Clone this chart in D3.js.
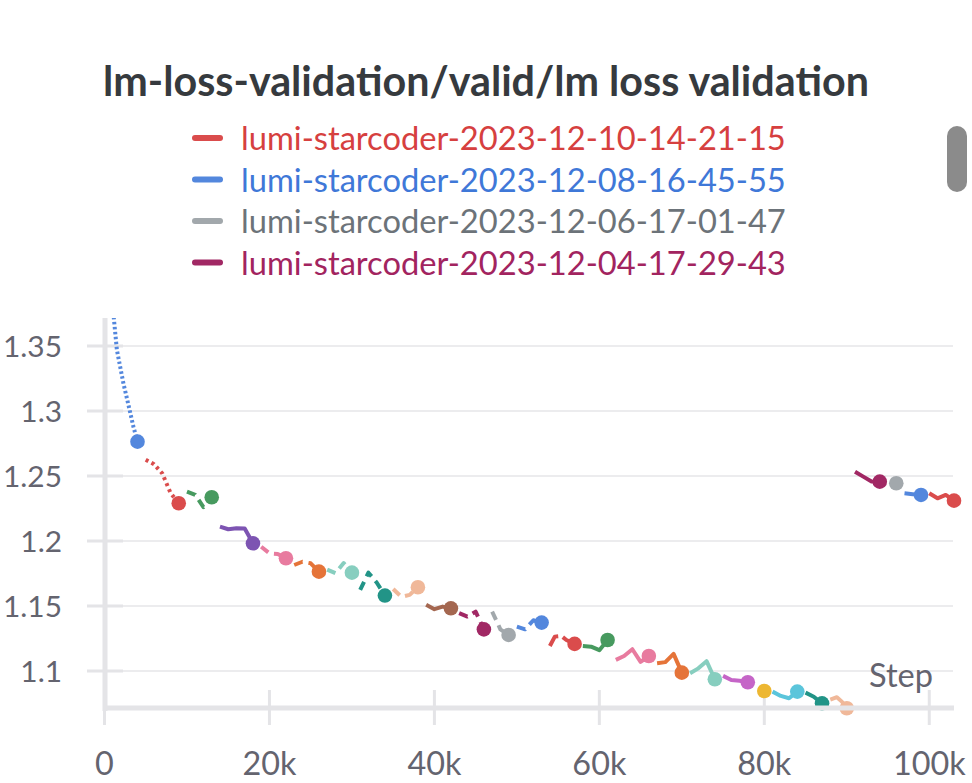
<!DOCTYPE html>
<html><head><meta charset="utf-8">
<script src="https://cdn.jsdelivr.net/npm/d3@7"></script>
<style>body{margin:0;background:#fff}svg{display:block}</style>
</head><body>
<svg id="c" width="972" height="783"></svg>
<script>
// ---- data ----
const title = "lm-loss-validation/valid/lm loss validation";
const legendLabels = ["lumi-starcoder-2023-12-10-14-21-15","lumi-starcoder-2023-12-08-16-45-55","lumi-starcoder-2023-12-06-17-01-47","lumi-starcoder-2023-12-04-17-29-43"];
const xTicks = [0, 20000, 40000, 60000, 80000, 100000];
const xTickLabels = ["0","20k","40k","60k","80k","100k"];
const yTicks = [1.1, 1.15, 1.2, 1.25, 1.3, 1.35];
const yTickLabels = ["1.1","1.15","1.2","1.25","1.3","1.35"];

const runBlue1 = [[1000,1.38],[1500,1.347],[2300,1.321],[3000,1.302],[3500,1.288],[4000,1.2764]];
const runRed1 = [[5000,1.2625],[6000,1.259],[7000,1.252],[8000,1.237],[9000,1.229]];
const runGreen1 = [[10000,1.238],[11000,1.2355],[12000,1.226],[13000,1.2336]];
const runPurple1 = [[14000,1.211],[15000,1.209],[16000,1.2098],[17000,1.2095],[18000,1.1982]];
const runPink1 = [[19000,1.1955],[20000,1.1905],[21000,1.19],[22000,1.1867]];
const runOrange1 = [[23000,1.1815],[24000,1.184],[25000,1.1828],[26000,1.1764]];
const runAqua1 = [[27000,1.178],[28000,1.1752],[29000,1.183],[30000,1.1756]];
const runTeal1 = [[31000,1.1623],[32000,1.1756],[33000,1.168],[34000,1.158]];
const runPeach1 = [[35000,1.163],[36000,1.157],[37000,1.1585],[38000,1.1644]];
const runBrown1 = [[39000,1.151],[40000,1.1475],[41000,1.1495],[42000,1.1482]];
const runMagenta1 = [[43000,1.1445],[44000,1.1418],[45000,1.1456],[46000,1.132]];
const runGray1 = [[47000,1.1456],[47500,1.139],[48000,1.132],[49000,1.1277]];
const runBlue2 = [[50000,1.1341],[51000,1.132],[52000,1.139],[53000,1.1372]];
const runRed2 = [[54000,1.1192],[54600,1.1264],[55400,1.1269],[56000,1.1238],[57000,1.1208]];
const runGreen2 = [[58000,1.1192],[59000,1.1187],[60000,1.116],[61000,1.1238]];
const runPink2 = [[62000,1.1085],[63000,1.1115],[64000,1.1167],[65000,1.107],[66000,1.1115]];
const runOrange2 = [[67000,1.106],[68000,1.1068],[69000,1.1131],[70000,1.0987]];
const runAqua2 = [[71000,1.0982],[72000,1.102],[73000,1.1075],[74000,1.0936]];
const runOrchid1 = [[75000,1.0962],[76000,1.093],[77000,1.0925],[78000,1.0913]];
const runYellow1 = [[80000,1.0846]];
const runCyan1 = [[81000,1.0841],[82000,1.0808],[83000,1.079],[84000,1.0841]];
const runTeal2 = [[85000,1.0833],[86000,1.0802],[87000,1.0751]];
const runPeach2 = [[88000,1.078],[88800,1.0798],[89400,1.0764],[90000,1.0713]];
const runMagenta2 = [[91000,1.2533],[92000,1.2495],[93000,1.2458],[94000,1.2456]];
const runGray2 = [[96000,1.2444]];
const runBlue3 = [[97000,1.2367],[98000,1.236],[99000,1.2354]];
const runRed3 = [[100000,1.2367],[101000,1.2328],[102000,1.2354],[103000,1.231]];

// ---- styles ----
const C = {red:"#da4c4c",blue:"#5387dd",gray:"#a2a8ac",magenta:"#a12864",green:"#479a5f",purple:"#7d54b2",
  pink:"#e87b9f",orange:"#e57439",aqua:"#87cebf",teal:"#229487",peach:"#f0b899",brown:"#a46750",
  orchid:"#c565c7",yellow:"#edb732",cyan:"#5bc5db"};
const DOT="2.5,2.5", DOT2="3,3.5", DASH="9,6", SOLID=null;
const runs = [
  [runBlue1,C.blue,DOT],[runRed1,C.red,DOT2],[runGreen1,C.green,DASH],[runPurple1,C.purple,SOLID],
  [runPink1,C.pink,DASH],[runOrange1,C.orange,DASH],[runAqua1,C.aqua,DASH],[runTeal1,C.teal,DASH],
  [runPeach1,C.peach,DASH],[runBrown1,C.brown,SOLID],[runMagenta1,C.magenta,DASH],[runGray1,C.gray,DASH],
  [runBlue2,C.blue,DASH],[runRed2,C.red,"14,5"],[runGreen2,C.green,SOLID],[runPink2,C.pink,SOLID],
  [runOrange2,C.orange,SOLID],[runAqua2,C.aqua,SOLID],[runOrchid1,C.orchid,SOLID],[runYellow1,C.yellow,SOLID],
  [runCyan1,C.cyan,SOLID],[runTeal2,C.teal,SOLID],[runPeach2,C.peach,SOLID],[runMagenta2,C.magenta,SOLID],
  [runGray2,C.gray,SOLID],[runBlue3,C.blue,SOLID],[runRed3,C.red,SOLID]
];
const legendColors = [C.red,C.blue,C.gray,C.magenta];
const legendTextColors = ["#d6403f","#3f78d8","#6c7379","#a2245f"];

const svg = d3.select("#c");
const FONT = "Lato, 'Noto Sans', sans-serif";
const textGray = "#64646f";
const axisCol = "#e4e4e7", gridCol = "#ececee";

function fit(sel, target, start){
  sel.attr("font-size", start);
  const w = sel.node().getComputedTextLength();
  const s = start*target/w;
  sel.attr("font-size", s);
  return s;
}

// title
const t = svg.append("text").attr("x",486).attr("y",96).attr("text-anchor","middle")
  .attr("font-family",FONT).attr("font-weight","bold").attr("fill","#363a3e").text(title);
fit(t, 766, 32);

// legend
const legY = [150,191.5,233,274.5];
let legSize = null;
legendLabels.forEach((lab,i)=>{
  svg.append("line").attr("x1",195).attr("x2",220).attr("y1",legY[i]-12).attr("y2",legY[i]-12)
    .attr("stroke",legendColors[i]).attr("stroke-width",6).attr("stroke-linecap","round");
  const tx = svg.append("text").attr("x",241).attr("y",legY[i]).attr("font-family",FONT)
    .attr("fill",legendTextColors[i]).text(lab);
  if(legSize===null) legSize = fit(tx,545,28); else tx.attr("font-size",legSize);
});

// scrollbar
svg.append("rect").attr("x",947).attr("y",126).attr("width",20).attr("height",66).attr("rx",10).attr("fill","#8b8b8b");

// scales
const x = d3.scaleLinear().domain([0,103000]).range([104.5,954]);
const y = d3.scaleLinear().domain([1.0715,1.3715]).range([708,318]);

// grid
svg.append("g").selectAll("line").data(yTicks).join("line")
  .attr("x1",104).attr("x2",953).attr("y1",d=>y(d)).attr("y2",d=>y(d))
  .attr("stroke",gridCol).attr("stroke-width",2);
// y ticks
svg.append("g").selectAll("line").data(yTicks).join("line")
  .attr("x1",87).attr("x2",123).attr("y1",d=>y(d)).attr("y2",d=>y(d))
  .attr("stroke",axisCol).attr("stroke-width",3);
// x ticks
svg.append("g").selectAll("line").data(xTicks).join("line")
  .attr("x1",d=>x(d)).attr("x2",d=>x(d)).attr("y1",690).attr("y2",725)
  .attr("stroke",axisCol).attr("stroke-width",3);

// labels
const xl = svg.append("g").selectAll("text").data(xTicks).join("text")
  .attr("x",d=>x(d)).attr("y",775).attr("text-anchor","middle").attr("font-family",FONT)
  .attr("fill",textGray).text((d,i)=>xTickLabels[i]);
const tickSize = fit(d3.select(xl.nodes()[1]),54,30);
xl.attr("font-size",tickSize);
const yl = svg.append("g").selectAll("text").data(yTicks).join("text")
  .attr("x",62).attr("y",d=>y(d)+11).attr("text-anchor","end").attr("font-family",FONT)
  .attr("fill",textGray).text((d,i)=>yTickLabels[i]);
const ySize = fit(d3.select(yl.nodes()[5]),59,30);
yl.attr("font-size",Math.min(ySize,tickSize));
const st = svg.append("text").attr("x",933).attr("y",687).attr("text-anchor","end").attr("font-family",FONT)
  .attr("fill",textGray).text("Step");
fit(st,64,30);

// clip
svg.append("clipPath").attr("id","clip").append("rect").attr("x",100).attr("y",318).attr("width",872).attr("height",440);

// lines
const line = d3.line().x(d=>x(d[0])).y(d=>y(d[1]));
const g = svg.append("g");
runs.forEach(([data,col,dash])=>{
  if(data.length>1){
    g.append("path").attr("d",line(data)).attr("fill","none").attr("stroke",col)
      .attr("stroke-width",4).attr("stroke-linejoin","round").attr("clip-path","url(#clip)")
      .attr("stroke-dasharray",dash);
  }
  const last = data[data.length-1];
  g.append("circle").attr("cx",x(last[0])).attr("cy",y(last[1])).attr("r",7.3).attr("fill",col);
});

// axes lines on top
svg.append("line").attr("x1",105).attr("x2",105).attr("y1",318).attr("y2",711).attr("stroke",axisCol).attr("stroke-width",5);
svg.append("line").attr("x1",103).attr("x2",954).attr("y1",708).attr("y2",708).attr("stroke",axisCol).attr("stroke-width",5);
</script>
</body></html>
